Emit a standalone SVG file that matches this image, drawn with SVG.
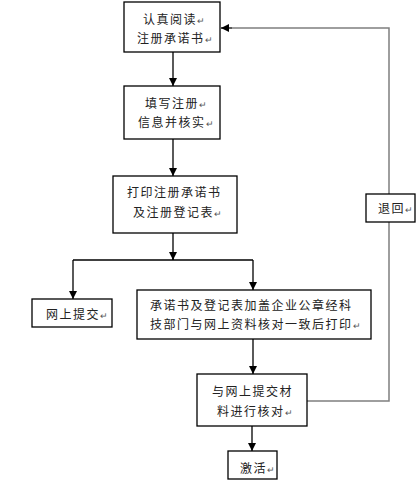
<svg xmlns="http://www.w3.org/2000/svg" width="418" height="488" viewBox="0 0 418 488">
<style>
.box{fill:#fff;stroke:#000;stroke-width:1.3}
.t{font-family:"Noto Sans CJK SC","Liberation Sans",sans-serif;font-size:12px;fill:#222;letter-spacing:1.5px}
.rm{font-size:9px;fill:#555;letter-spacing:0}
.ln{fill:none;stroke:#000;stroke-width:1.3}
.gl{fill:none;stroke:#7f7f7f;stroke-width:1.5}
</style>
<defs>
<marker id="ah" viewBox="0 0 10 10" refX="10" refY="5" markerWidth="8" markerHeight="8" markerUnits="userSpaceOnUse" orient="auto">
<path d="M0,0 L10,5 L0,10 z" fill="#000"/>
</marker>
</defs>
<rect width="418" height="488" fill="#fff"/>
<g id="connectors">
<line class="ln" x1="173" y1="52" x2="173" y2="86" marker-end="url(#ah)"/>
<line class="ln" x1="173" y1="139" x2="173" y2="176" marker-end="url(#ah)"/>
<polyline class="ln" points="173,233 173,260"/>
<line class="ln" x1="173" y1="253" x2="173" y2="260" marker-end="url(#ah)"/>
<polyline class="ln" points="73,260 253,260"/>
<line class="ln" x1="73" y1="260" x2="73" y2="299" marker-end="url(#ah)"/>
<line class="ln" x1="253" y1="260" x2="253" y2="290" marker-end="url(#ah)"/>
<line class="ln" x1="253" y1="339" x2="253" y2="374" marker-end="url(#ah)"/>
<line class="ln" x1="252" y1="426" x2="252" y2="451" marker-end="url(#ah)"/>
<polyline class="gl" points="307,401 389,401 389,28 232,28"/>
<line class="ln" x1="232" y1="28" x2="221" y2="28" marker-end="url(#ah)"/>
</g>
<g id="n1">
<rect class="box" x="124" y="2" width="96" height="50"/>
<text class="t" x="143" y="24">认真阅读<tspan class="rm">↵</tspan></text>
<text class="t" x="137" y="43">注册承诺书<tspan class="rm">↵</tspan></text>
</g>
<g id="n2">
<rect class="box" x="124" y="86" width="96" height="53"/>
<text class="t" x="145" y="108">填写注册<tspan class="rm">↵</tspan></text>
<text class="t" x="138" y="127">信息并核实<tspan class="rm">↵</tspan></text>
</g>
<g id="n3">
<rect class="box" x="113" y="176" width="124" height="57"/>
<text class="t" x="127" y="197">打印注册承诺书</text>
<text class="t" x="133" y="217">及注册登记表<tspan class="rm">↵</tspan></text>
</g>
<g id="n4">
<rect class="box" x="32" y="299" width="80" height="28"/>
<text class="t" x="46" y="319">网上提交<tspan class="rm">↵</tspan></text>
</g>
<g id="n5">
<rect class="box" x="137" y="290" width="234" height="49"/>
<text class="t" x="150" y="310">承诺书及登记表加盖企业公章经科</text>
<text class="t" x="150" y="329">技部门与网上资料核对一致后打印<tspan class="rm">↵</tspan></text>
</g>
<g id="n6">
<rect class="box" x="197" y="374" width="110" height="52"/>
<text class="t" x="212" y="396">与网上提交材</text>
<text class="t" x="217" y="416">料进行核对<tspan class="rm">↵</tspan></text>
</g>
<g id="n7">
<rect class="box" x="228" y="451" width="49" height="28"/>
<text class="t" x="240" y="473">激活<tspan class="rm">↵</tspan></text>
</g>
<g id="n8">
<rect class="box" x="366" y="194" width="49" height="28"/>
<text class="t" x="378" y="213">退回<tspan class="rm">↵</tspan></text>
</g>
</svg>
